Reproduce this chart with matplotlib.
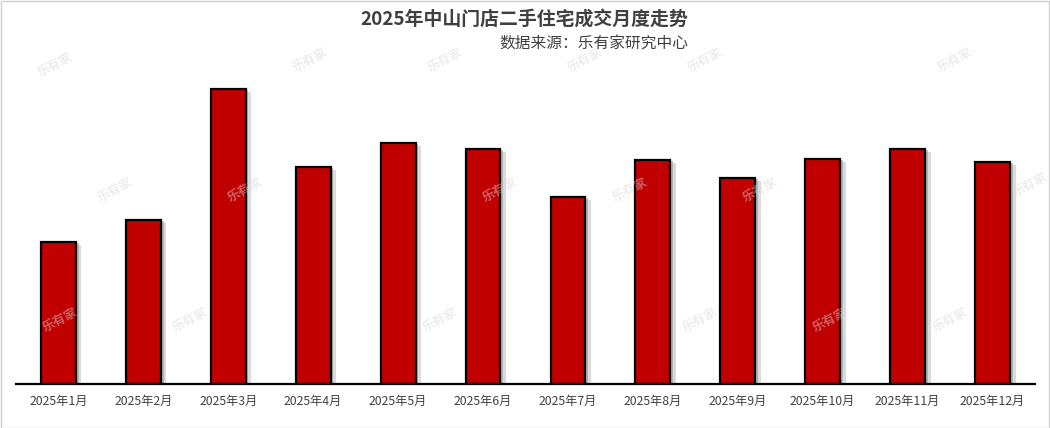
import matplotlib
matplotlib.use("Agg")
import matplotlib.pyplot as plt
import matplotlib.patheffects as pe
from matplotlib.patches import Rectangle

plt.rcParams['font.family'] = ['Noto Sans CJK SC', 'DejaVu Sans']

# data (no axis scale shown, values read as relative heights)
months = ['2025年1月', '2025年2月', '2025年3月', '2025年4月', '2025年5月', '2025年6月',
          '2025年7月', '2025年8月', '2025年9月', '2025年10月', '2025年11月', '2025年12月']
deals = [142, 164, 295, 217, 241, 235, 187, 224, 206, 225, 235, 222]

title = '2025年中山门店二手住宅成交月度走势'
source = '数据来源：乐有家研究中心'

fig = plt.figure(figsize=(10.5, 4.28), dpi=100)
ax = fig.add_axes([16 / 1050, 44 / 428, 1019 / 1050, 314 / 428])

x = list(range(len(months)))
bars = ax.bar(x, deals, width=0.41, color='#c00000', edgecolor='black', linewidth=1.6, zorder=3)
for b in bars:
    b.set_path_effects([pe.SimplePatchShadow(offset=(4, -2), shadow_rgbFace='#b0b0b0', alpha=0.45),
                        pe.SimplePatchShadow(offset=(2, -1), shadow_rgbFace='#888888', alpha=0.5),
                        pe.Normal()])

ax.set_xlim(-0.5, len(months) - 0.5)
ax.set_ylim(0, 314)
ax.set_yticks([])
ax.set_xticks(x)
ax.set_xticklabels(months, fontsize=8.8, color='#404040')
ax.tick_params(axis='x', length=0, pad=8)
for s in ['top', 'right', 'left']:
    ax.spines[s].set_visible(False)
ax.spines['bottom'].set_linewidth(1.6)
ax.spines['bottom'].set_zorder(4)

# title + source
fig.text(688 / 1050, 1 - 20 / 428, title, ha='right', va='center', fontsize=13.6,
         fontweight='bold', color='#404040')
fig.text(688 / 1050, 1 - 43 / 428, source, ha='right', va='center', fontsize=11.3,
         color='#404040')

# watermarks
marks = [(55, 65), (310, 60), (445, 60), (585, 60), (705, 60), (955, 60),
         (115, 190), (245, 190), (500, 190), (630, 190), (760, 190), (1030, 185),
         (60, 320), (190, 320), (440, 320), (700, 320), (830, 320), (950, 320)]
for mx, my in marks:
    fig.text(mx / 1050, 1 - my / 428, '乐有家', ha='center', va='center', fontsize=9,
             fontweight='bold', color='#d8d8d8', alpha=0.45, rotation=28, zorder=0)

# outer frame
fig.patches.append(Rectangle((0.5 / 1050, 0.5 / 428), 1 - 1.5 / 1050, 1 - 1.5 / 428,
                             transform=fig.transFigure, fill=False, edgecolor='#d0d0d0',
                             linewidth=1))

fig.savefig('out.png', dpi=100)
